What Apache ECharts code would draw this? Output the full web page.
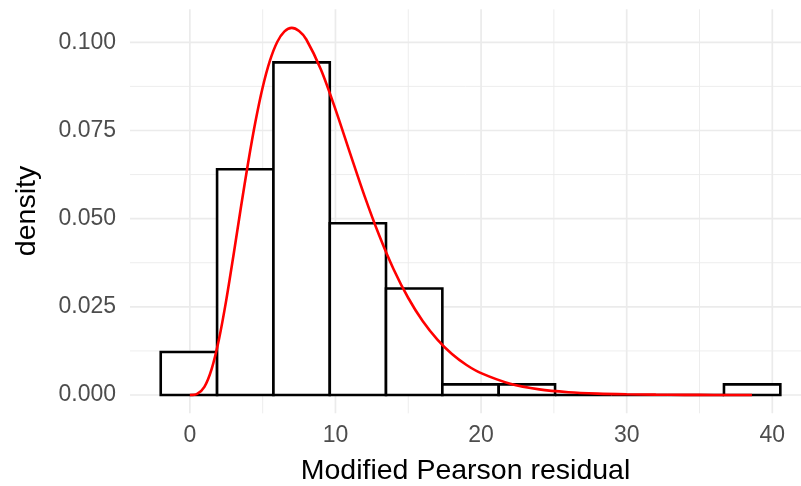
<!DOCTYPE html>
<html>
<head>
<meta charset="utf-8">
<script src="https://cdn.jsdelivr.net/npm/echarts@6/dist/echarts.min.js"></script>
<style>html,body{margin:0;padding:0;background:#fff}#c{width:801px;height:486px}</style>
</head>
<body>
<div id="c"></div>
<script>
// Histogram bins (left edge, right edge) and densities
const binStart = [-2.00, 1.87, 5.74, 9.61, 13.47, 17.34, 21.21, 25.08, 28.94, 32.81, 36.68];
const binEnd   = [ 1.87, 5.74, 9.61, 13.47, 17.34, 21.21, 25.08, 28.94, 32.81, 36.68, 40.55];
const binDensity = [0.0122, 0.0640, 0.0943, 0.0487, 0.0302, 0.0030, 0.0030, 0, 0, 0, 0.0030];

// Red density curve
const curveX = [0, 0.5, 1, 1.5, 2, 2.5, 3, 3.5, 4, 4.5, 5, 5.5, 6, 6.5, 7, 7.5, 8, 9, 10, 11, 12, 13, 14, 15, 16, 17, 18, 19, 20, 22, 24, 26, 28, 30, 32, 34, 36, 38.6];
const curveY = [0, 0.0003, 0.0023, 0.0074, 0.0158, 0.0269, 0.0397, 0.0530, 0.0658, 0.0774, 0.0872, 0.0948, 0.1001, 0.1031, 0.1041, 0.1032, 0.1008, 0.0923, 0.0810, 0.0686, 0.0564, 0.0453, 0.0356, 0.0275, 0.0209, 0.0157, 0.0116, 0.0085, 0.0062, 0.0032, 0.0016, 0.0008, 0.0004, 0.0002, 0.0001, 0.00004, 0.00002, 0.00001];

// Axis ticks
const xTicks = [0, 10, 20, 30, 40];
const xMinorTicks = [5, 15, 25, 35];
const yTicks = [0, 0.025, 0.05, 0.075, 0.1];
const yMinorTicks = [0.0125, 0.0375, 0.0625, 0.0875];

const GRID = '#ebebeb';
// grid line items: [axis, value, isMajor]
const gridItems = [];
xTicks.forEach(v => gridItems.push([0, v, 1]));
xMinorTicks.forEach(v => gridItems.push([0, v, 0]));
yTicks.forEach(v => gridItems.push([1, v, 1]));
yMinorTicks.forEach(v => gridItems.push([1, v, 0]));

const histData = binStart.map((s, i) => [s, binEnd[i], binDensity[i]]);
const curveData = curveX.map((x, i) => [x, curveY[i]]);

const chart = echarts.init(document.getElementById('c'), null, {renderer: 'canvas'});
const FONT = '"Liberation Sans", Arial, Helvetica, sans-serif';
chart.setOption({
  animation: false,
  backgroundColor: '#ffffff',
  grid: {left: 130, right: 0, top: 9.3, bottom: 72.7, containLabel: false, outerBoundsMode: 'none'},
  xAxis: {
    type: 'value', min: -4.11, max: 41.97,
    axisLine: {show: false}, axisTick: {show: false}, splitLine: {show: false},
    axisLabel: {customValues: xTicks, color: '#4d4d4d', fontSize: 23, fontFamily: FONT, margin: 11,
      showMinLabel: true, showMaxLabel: true},
    name: 'Modified Pearson residual', nameLocation: 'middle', nameGap: 43,
    nameTextStyle: {color: '#000', fontSize: 28.5, fontFamily: FONT}
  },
  yAxis: {
    type: 'value', min: -0.00519, max: 0.10936,
    axisLine: {show: false}, axisTick: {show: false}, splitLine: {show: false},
    axisLabel: {customValues: yTicks, color: '#4d4d4d', fontSize: 23, fontFamily: FONT, margin: 14,
      formatter: v => v.toFixed(3)}
  },
  graphic: [{
    type: 'text', x: 27, y: 211, rotation: Math.PI / 2,
    style: {text: 'density', fill: '#000', fontSize: 28.5, fontFamily: FONT, align: 'center', verticalAlign: 'middle'}
  }],
  series: [
    {
      type: 'custom', z: 1, silent: true, data: gridItems, clip: false,
      encode: {x: -1, y: -1},
      renderItem: function (params, api) {
        const cs = params.coordSys;
        const axis = api.value(0), v = api.value(1), major = api.value(2);
        let shape;
        if (axis === 0) {
          const px = api.coord([v, 0])[0];
          shape = {x1: px, y1: cs.y, x2: px, y2: cs.y + cs.height};
        } else {
          const py = api.coord([0, v])[1];
          shape = {x1: cs.x, y1: py, x2: cs.x + cs.width, y2: py};
        }
        return {type: 'line', shape: shape, style: {stroke: GRID, lineWidth: major ? 1.7 : 0.9}};
      }
    },
    {
      type: 'custom', z: 2, data: histData,
      encode: {x: [0, 1], y: 2},
      renderItem: function (params, api) {
        const a = api.coord([api.value(0), 0]);
        const b = api.coord([api.value(1), api.value(2)]);
        return {
          type: 'polygon',
          shape: {points: [[a[0], a[1]], [a[0], b[1]], [b[0], b[1]], [b[0], a[1]]]},
          style: {fill: '#ffffff', stroke: '#000000', lineWidth: 2.6, lineJoin: 'miter'}
        };
      }
    },
    {
      type: 'line', z: 3, data: curveData, smooth: 0.3, showSymbol: false,
      lineStyle: {color: '#ff0000', width: 2.6}, itemStyle: {color: '#ff0000'}
    }
  ]
});
</script>
</body>
</html>
